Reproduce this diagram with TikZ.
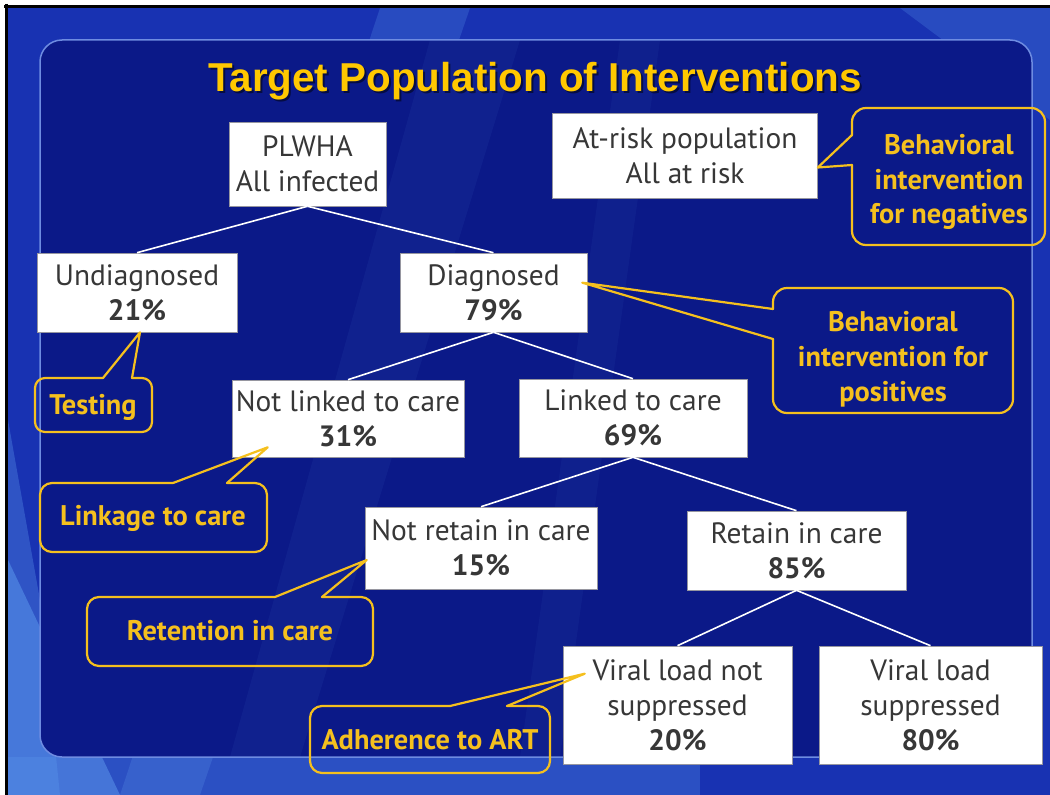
\documentclass[tikz,border=0pt]{standalone}
\usepackage{fontspec}
\setmainfont{PT Sans}
\newfontfamily\titlefont{Liberation Sans}
\usetikzlibrary{calc}
\definecolor{slideblue}{RGB}{24,50,178}
\definecolor{streak}{RGB}{90,150,235}
\definecolor{panelblue}{RGB}{11,25,136}
\definecolor{panelline}{RGB}{110,140,225}
\definecolor{titlegold}{RGB}{255,200,0}
\definecolor{gold}{RGB}{245,192,30}
\definecolor{boxtext}{RGB}{55,55,55}
\definecolor{boxedge}{RGB}{150,150,160}
\begin{document}
\begin{tikzpicture}[x=1bp,y=-1bp,
  box/.style={draw=boxedge, line width=0.6bp, fill=white, text=boxtext,
    align=center, inner sep=0pt, font=\fontsize{29.5}{35}\selectfont},
  link/.style={draw=white, line width=1.6bp},
  callout/.style={draw=gold, line width=2.2bp, line join=round, line cap=round},
  ctext/.style={text=gold, align=center, inner sep=0pt,
    font=\fontsize{28.5}{35}\selectfont\bfseries},
]
\useasboundingbox (0,0) rectangle (1050,795);
% page and frame
\fill[white] (0,0) rectangle (1050,795);
\fill[slideblue] (8,8) rectangle (1050,795);
% light streaks of the slide background
\fill[streak, opacity=0.55] (8,560) -- (8,795) -- (120,795) -- cycle;
\fill[streak, opacity=0.35] (8,420) -- (8,795) -- (60,795) -- (40,600) -- cycle;
\fill[streak, opacity=0.25] (380,8) -- (470,8) -- (200,795) -- (120,795) -- cycle;
\fill[streak, opacity=0.25] (900,8) -- (1050,8) -- (1050,120) -- cycle;
\fill[streak, opacity=0.30] (8,757) rectangle (700,795);
\draw[black, line width=3bp] (4,6.5) -- (1050,6.5);
\draw[black, line width=3bp] (6.5,4) -- (6.5,795);
% inner panel
\fill[panelblue, rounded corners=22bp] (40,40) rectangle (1032,757);
\fill[streak, opacity=0.07] (430,40) -- (520,40) -- (300,757) -- (230,757) -- cycle;
\fill[streak, opacity=0.06] (620,40) -- (660,40) -- (560,757) -- (520,757) -- cycle;
\draw[panelline, line width=1.5bp, rounded corners=22bp] (40,40) rectangle (1032,757);

% title
\node[anchor=base, text=black, opacity=0.5, font=\titlefont\bfseries\fontsize{40.5}{48}\selectfont]
  (titleshadow) at (537,94) {Target Population of Interventions};
\node[anchor=base, text=titlegold, font=\titlefont\bfseries\fontsize{40.5}{48}\selectfont]
  (title) at (535,92) {Target Population of Interventions};

% boxes
\node[box, minimum width=157bp, minimum height=84bp] (plwha) at (307.5,164) {PLWHA\\All infected};
\node[box, minimum width=265bp, minimum height=85bp] (atrisk) at (685,155.5) {At-risk population\\All at risk};
\node[box, minimum width=200bp, minimum height=79bp] (undiag) at (137,292.5) {Undiagnosed\\\textbf{21\%}};
\node[box, minimum width=187bp, minimum height=79bp] (diag) at (493.5,292.5) {Diagnosed\\\textbf{79\%}};
\node[box, minimum width=232bp, minimum height=77bp] (notlinked) at (348,418.5) {Not linked to care\\\textbf{31\%}};
\node[box, minimum width=228bp, minimum height=78bp] (linked) at (633,418) {Linked to care\\\textbf{69\%}};
\node[box, minimum width=232bp, minimum height=82bp] (notretain) at (481,548) {Not retain in care\\\textbf{15\%}};
\node[box, minimum width=219bp, minimum height=79bp] (retain) at (796.5,550.5) {Retain in care\\\textbf{85\%}};
\node[box, minimum width=229bp, minimum height=118bp] (vlnot) at (677.5,705) {Viral load not\\suppressed\\\textbf{20\%}};
\node[box, minimum width=223bp, minimum height=118bp] (vlsup) at (930.5,705) {Viral load\\suppressed\\\textbf{80\%}};

% tree connectors
\draw[link] (plwha.south) -- (undiag.north);
\draw[link] (plwha.south) -- (diag.north);
\draw[link] (diag.south) -- (notlinked.north);
\draw[link] (diag.south) -- (linked.north);
\draw[link] (linked.south) -- (notretain.north);
\draw[link] (linked.south) -- (retain.north);
\draw[link] (retain.south) -- (vlnot.north);
\draw[link] (retain.south) -- (vlsup.north);

% pointer tips of the callouts
\coordinate (tNeg) at ($(atrisk.east)+(0,12)$);
\coordinate (tPos) at ($(diag.north east)+(-5,30)$);
\coordinate (tTest) at ($(undiag.south)+(3,0)$);
\coordinate (tLink) at ($(notlinked.south west)+(36,-10)$);
\coordinate (tRet) at ($(notretain.west)+(2,12)$);
\coordinate (tAdh) at ($(vlnot.north west)+(22,28)$);

% callouts: rounded outline left open at the pointer base, then the pointer
\draw[callout, rounded corners=14bp] (852,165) -- (852,245) -- (1045,245) -- (1045,108) -- (852,108) -- (852,135);
\draw[callout] (852,135) -- (tNeg) -- (852,165);
\node[ctext] (cNeg) at (949,182) {Behavioral\\intervention\\for negatives};

\draw[callout, rounded corners=14bp] (773,339) -- (773,413) -- (1013,413) -- (1013,288) -- (773,288) -- (773,309);
\draw[callout] (773,309) -- (tPos) -- (773,339);
\node[ctext] (cPos) at (893,359) {Behavioral\\intervention for\\positives};

\draw[callout, rounded corners=10bp] (132,378) -- (152,378) -- (152,432) -- (35,432) -- (35,378) -- (103,378);
\draw[callout] (103,378) -- (tTest) -- (132,378);
\node[ctext] (cTest) at (93,407) {Testing};

\draw[callout, rounded corners=12bp] (227,483) -- (267,483) -- (267,552) -- (40,552) -- (40,483) -- (173,483);
\draw[callout] (173,483) -- (tLink) -- (227,483);
\node[ctext] (cLink) at (153,518) {Linkage to care};

\draw[callout, rounded corners=12bp] (322,597) -- (373,597) -- (373,666) -- (87,666) -- (87,597) -- (275,597);
\draw[callout] (275,597) -- (tRet) -- (322,597);
\node[ctext] (cRet) at (230,631) {Retention in care};

\draw[callout, rounded corners=12bp] (507,706) -- (550,706) -- (550,773) -- (310,773) -- (310,706) -- (450,706);
\draw[callout] (450,706) -- (tAdh) -- (507,706);
\node[ctext] (cAdh) at (430,740) {Adherence to ART};
\end{tikzpicture}
\end{document}
